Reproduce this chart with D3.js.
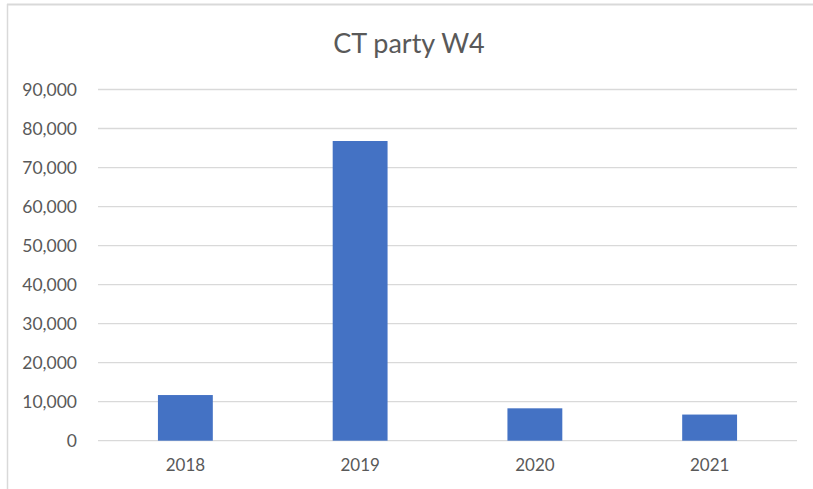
<!DOCTYPE html>
<html>
<head>
<meta charset="utf-8">
<script src="https://cdn.jsdelivr.net/npm/d3@7"></script>
<style>
  body { margin: 0; background: #fff; }
  text { font-family: Lato, "Open Sans", sans-serif; fill: #595959; }
</style>
</head>
<body>
<div id="chart"></div>
<script>
(function () {
    // chart data
    var years = ["2018", "2019", "2020", "2021"];
    var values = [11700, 76800, 8300, 6700];
    var yTicks = [0, 10000, 20000, 30000, 40000, 50000, 60000, 70000, 80000, 90000];

    var W = 813, H = 489;
    var left = 98, right = 797, top = 89.5, bottom = 440.7;

    var svg = d3.select("#chart").append("svg")
        .attr("width", W)
        .attr("height", H);

    // chart frame (only top and left visible)
    svg.append("line").attr("x1", 7).attr("x2", W).attr("y1", 4.5).attr("y2", 4.5)
        .attr("stroke", "#d9d9d9").attr("stroke-width", 2);
    svg.append("line").attr("x1", 7.5).attr("x2", 7.5).attr("y1", 4).attr("y2", H)
        .attr("stroke", "#d9d9d9").attr("stroke-width", 1.5);

    var x = d3.scaleBand().domain(years).range([left, right]).paddingInner(0.686).paddingOuter(0.343);
    var y = d3.scaleLinear().domain([0, 90000]).range([bottom, top]);

    // gridlines
    svg.append("g").selectAll("line.grid")
        .data(yTicks).enter().append("line")
        .attr("class", "grid")
        .attr("x1", left).attr("x2", right)
        .attr("y1", function (d) { return y(d); })
        .attr("y2", function (d) { return y(d); })
        .attr("stroke", "#d9d9d9")
        .attr("stroke-width", 1.3);

    // y axis labels
    var yAxis = d3.axisLeft(y).tickValues(yTicks).tickSize(0).tickPadding(21)
        .tickFormat(d3.format(","));
    var gy = svg.append("g").attr("transform", "translate(" + left + ",0)").call(yAxis);
    gy.select(".domain").remove();
    gy.selectAll("text").style("font-size", "17.5px").attr("fill", "#595959");

    // bars
    svg.append("g").selectAll("rect.bar")
        .data(values).enter().append("rect")
        .attr("class", "bar")
        .attr("x", function (d, i) { return x(years[i]); })
        .attr("y", function (d) { return y(d); })
        .attr("width", x.bandwidth())
        .attr("height", function (d) { return y(0) - y(d); })
        .attr("fill", "#4472c4");

    // x axis labels
    var xAxis = d3.axisBottom(x).tickSize(0).tickPadding(18);
    var gx = svg.append("g").attr("transform", "translate(0," + bottom + ")").call(xAxis);
    gx.select(".domain").remove();
    gx.selectAll("text").style("font-size", "17px").attr("fill", "#595959");

    // title
    svg.append("text")
        .attr("x", 409)
        .attr("y", 53)
        .attr("text-anchor", "middle")
        .style("font-size", "27px")
        .text("CT party W4");
})();
</script>
</body>
</html>
